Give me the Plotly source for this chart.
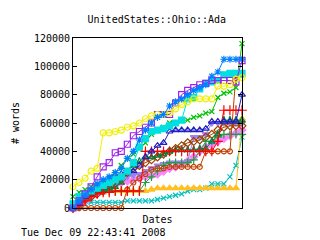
import plotly.graph_objects as go

# x: sample index over the date range (dates not labelled on the axis)
days = list(range(29))

yellow = [15000, 18000, 21000, 26000, 28000, 53000, 53000, 54000, 55000, 57000, 58000, 60000, 63000, 65000, 66000,
          66000, 67000, 70000, 73000, 75000, 77000, 77000, 77000, 77000, 86000, 86000, 87000, 91000, 92000]
blue_star = [0, 5000, 9000, 13000, 17000, 20000, 22000, 25000, 28000, 35000, 40000, 48000, 55000, 60000, 64000,
             66000, 72000, 75000, 77000, 80000, 83000, 85000, 87000, 93000, 96000, 105000, 105000, 105000, 105000]
purple_sq = [0, 5000, 10000, 15000, 22000, 29000, 32000, 39000, 40000, 45000, 51000, 54000, 57000, 60000, 66000,
             66000, 66000, 74000, 80000, 83000, 85000, 87000, 88000, 90000, 90000, 90000, 90000, 89000, 104000]
cyan_sq = [3000, 8000, 10000, 12000, 14000, 16000, 18000, 20000, 22000, 26000, 32000, 43000, 49000, 54000, 55000,
           56000, 58000, 60000, 62000, 77000, 78000, 84000, 88000, 89000, 90000, 94000, 95000, 95000, 95000]
green_x = [8000, 11000, 13000, 15000, 17000, 19000, 21000, 25000, 30000, 35000, 38000, 42000, 46000, 52000, 55000,
           57000, 60000, 60000, 62000, 62000, 64000, 65000, 67000, 68000, 78000, 81000, 82000, 85000, 116000]
navy_tri = [0, 3000, 8000, 12000, 15000, 17000, 20000, 23000, 24000, 25000, 26000, 30000, 36000, 40000, 44000,
            46000, 54000, 55000, 55000, 55000, 55000, 55000, 56000, 61000, 61000, 61000, 61000, 61000, 80000]
red_plus = [0, 2000, 5000, 8000, 10000, 11000, 11000, 12000, 12000, 12000, 12000, 12000, 40000, 40000, 40000,
            40000, 40000, 40000, 40000, 40000, 40000, 40000, 40000, 40000, 47000, 69000, 69000, 69000, 69000]
brown_circ = [0, 0, 0, 0, 0, 0, 0, 0, 0, 13000, 18000, 21000, 24000, 27000, 28000,
              28000, 29000, 29000, 29000, 29000, 29000, 29000, 40000, 40000, 40000, 40000, 40000, 94000, 94000]
orange_tri = [0, 5000, 8000, 10000, 11000, 11000, 12000, 12000, 12000, 12000, 12000, 12000, 12000, 13000, 14000,
              14000, 14000, 14000, 14000, 14000, 14000, 14000, 14000, 14000, 14000, 14000, 14000, 14000, 63000]
lavender_tri = [0, 0, 8000, 12000, 16000, 18000, 19000, 20000, 21000, 22000, 23000, 24000, 26000, 28000, 30000,
                31000, 32000, 32000, 32000, 33000, 50000, 50000, 52000, 60000, 60000, 60000, 60000, 60000, 60000]
sienna_dia = [0, 3000, 6000, 8000, 10000, 12000, 14000, 17000, 20000, 25000, 28000, 30000, 32000, 34000, 36000,
              38000, 40000, 42000, 44000, 46000, 47000, 48000, 50000, 52000, 55000, 57000, 58000, 58000, 58000]
orchid_dia = [0, 2000, 5000, 8000, 10000, 12000, 14000, 16000, 18000, 19000, 20000, 21000, 22000, 23000, 24000,
              26000, 28000, 29000, 31000, 33000, 36000, 40000, 43000, 45000, 47000, 49000, 51000, 53000, 55000]
teal_x = [0, 2000, 3000, 4000, 4000, 4000, 4000, 4000, 4000, 5000, 5000, 5000, 5000, 5000, 6000,
          7000, 8000, 9000, 10000, 12000, 13000, 13000, 14000, 17000, 17000, 17000, 22000, 30000, 50000]
dkgreen = [0, 5000, 8000, 10000, 12000, 13000, 14000, 15000, 18000, 25000, 30000, 33000, 36000, 36000, 37000,
           38000, 40000, 41000, 41000, 41000, 41000, 42000, 42000, 47000, 52000, 62000, 62000, 62000, 62000]
seagreen = [0, 4000, 7000, 9000, 11000, 12000, 12000, 12000, 12000, 12000, 12000, 12000, 18000, 22000, 26000,
            30000, 32000, 32000, 32000, 32000, 34000, 40000, 47000, 47000, 50000, 52000, 52000, 52000, 52000]

y_ticks = [0, 20000, 40000, 60000, 80000, 100000, 120000]

series = [
    (teal_x, "#00c0c0", "x-thin-open", 5),
    (orange_tri, "#ffc020", "triangle-up", 6),
    (orchid_dia, "#ff80ff", "diamond", 6),
    (lavender_tri, "#a080f0", "triangle-down", 6),
    (sienna_dia, "#a04000", "diamond-open", 6),
    (seagreen, "#20a040", "cross-thin-open", 6),
    (dkgreen, "#008040", "star-triangle-up-open", 5),
    (brown_circ, "#c04000", "circle-open", 5),
    (red_plus, "#ff0000", "cross-thin-open", 7),
    (navy_tri, "#2020c0", "triangle-up-open", 6),
    (green_x, "#00c000", "x-thin-open", 5),
    (cyan_sq, "#00e0e0", "square", 6),
    (purple_sq, "#a020f0", "square-open", 6),
    (yellow, "#f0f000", "circle-open", 6),
    (blue_star, "#0080ff", "asterisk-open", 6),
]

fig = go.Figure()
for vals, col, sym, sz in series:
    fig.add_trace(go.Scatter(
        x=days, y=vals, mode="lines+markers",
        line=dict(color=col, width=1),
        marker=dict(symbol=sym, size=sz, color=col, line=dict(color=col, width=1.2)),
        cliponaxis=False, showlegend=False,
    ))

font = dict(family="DejaVu Sans Mono", size=10, color="black")
fig.update_layout(
    width=320, height=240,
    margin=dict(l=73, r=78, t=38, b=32),
    paper_bgcolor="white", plot_bgcolor="white",
    font=font,
    title=dict(text="UnitedStates::Ohio::Ada", x=0.49, xanchor="center", y=1 - 19 / 240, yanchor="middle",
               font=font),
    xaxis=dict(range=[0, 28], showticklabels=False, ticks="", showgrid=False, zeroline=False,
               showline=True, linecolor="black", linewidth=1, mirror=True,
               title=dict(text="Dates", font=font, standoff=7)),
    yaxis=dict(range=[0, 120000], tickvals=y_ticks, ticktext=[str(v) for v in y_ticks],
               ticks="inside", ticklen=4, tickcolor="black", showgrid=False, zeroline=False,
               showline=True, linecolor="black", linewidth=1, mirror="allticks",
               title=dict(text="# words", font=font, standoff=12)),
    annotations=[dict(text="Tue Dec 09 22:43:41 2008", xref="paper", yref="paper",
                      x=-54 / 169, y=-24 / 170, xanchor="left", yanchor="middle",
                      showarrow=False, font=font)],
)
fig.write_html("out.html")
